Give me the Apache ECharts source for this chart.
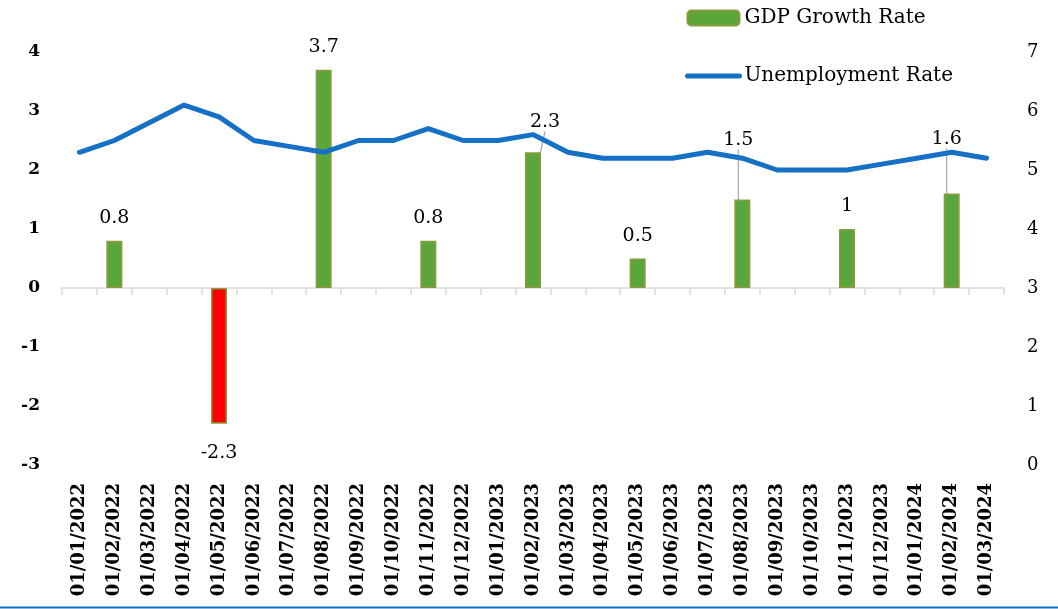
<!DOCTYPE html>
<html>
<head>
<meta charset="utf-8">
<script src="https://cdn.jsdelivr.net/npm/echarts@6/dist/echarts.min.js"></script>
<style>
    html, body { margin: 0; padding: 0; background: #fff; }
    #chart { width: 1058px; height: 609px; }
</style>
</head>
<body>
<div id="chart"></div>
<script>
// 月份
let categories = [
    '01/01/2022', '01/02/2022', '01/03/2022', '01/04/2022', '01/05/2022', '01/06/2022',
    '01/07/2022', '01/08/2022', '01/09/2022', '01/10/2022', '01/11/2022', '01/12/2022',
    '01/01/2023', '01/02/2023', '01/03/2023', '01/04/2023', '01/05/2023', '01/06/2023',
    '01/07/2023', '01/08/2023', '01/09/2023', '01/10/2023', '01/11/2023', '01/12/2023',
    '01/01/2024', '01/02/2024', '01/03/2024'
]
// GDP 增长 (季度)
let gdpGrowth = [
    null, 0.8, null, null, -2.3, null, null, 3.7, null, null, 0.8, null,
    null, 2.3, null, null, 0.5, null, null, 1.5, null, null, 1, null,
    null, 1.6, null
]
// 失业率
let unemployment = [
    5.3, 5.5, 5.8, 6.1, 5.9, 5.5, 5.4, 5.3, 5.5, 5.5, 5.7, 5.5,
    5.5, 5.6, 5.3, 5.2, 5.2, 5.2, 5.3, 5.2, 5.0, 5.0, 5.0, 5.1,
    5.2, 5.3, 5.2
]
let leftTicks = [-3, -2, -1, 0, 1, 2, 3, 4]
let rightTicks = [0, 1, 2, 3, 4, 5, 6, 7]

// 被移动的标签 (dx, dy)
let labelShift = {13: [12, -8], 19: [-4, -37], 25: [-5, -32]}

let font = 'DejaVu Serif'
let green = '#5AA63B'
let olive = '#8C9A3E'
let blue = '#1570C6'

let barData = gdpGrowth.map((v, i) => {
    if (v === null) return '-'
    let item = {value: v, itemStyle: {color: v < 0 ? '#FF0000' : green}}
    if (v < 0) item.label = {position: 'bottom', distance: 20}
    if (labelShift[i]) item.labelLine = {show: true}
    return item
})

var mychart = echarts.init(document.getElementById('chart'))
mychart.setOption({
    animation: false,
    grid: {left: 62, right: 54, top: 52, bottom: 144},
    legend: {
        orient: 'vertical',
        left: 680,
        top: 3,
        itemWidth: 52,
        itemHeight: 15,
        itemGap: 38,
        textStyle: {fontFamily: font, fontSize: 20, color: '#000'},
        data: [
            {name: 'GDP Growth Rate'},
            {name: 'Unemployment Rate', itemStyle: {opacity: 0}, lineStyle: {width: 5, color: blue, cap: 'round'}}
        ]
    },
    xAxis: [
        {
            type: 'category',
            data: categories,
            boundaryGap: true,
            axisLine: {onZero: true, onZeroAxisIndex: 0, lineStyle: {color: '#d9d9d9', width: 1.5}},
            axisTick: {show: true, interval: 0, length: 7, lineStyle: {color: '#d9d9d9', width: 1.5}},
            axisLabel: {show: false}
        },
        {
            type: 'category',
            data: categories,
            position: 'bottom',
            axisLine: {show: false, onZero: false},
            axisTick: {show: false},
            axisLabel: {
                rotate: 90, margin: 18, interval: 0,
                fontFamily: font, fontWeight: 'bold', fontSize: 18, color: '#000'
            }
        }
    ],
    yAxis: [
        {
            type: 'value',
            min: leftTicks[0], max: leftTicks[leftTicks.length - 1], interval: 1,
            splitLine: {show: false},
            axisLine: {show: false},
            axisTick: {show: false},
            axisLabel: {margin: 22, fontFamily: font, fontWeight: 'bold', fontSize: 17, color: '#000'}
        },
        {
            type: 'value',
            position: 'right',
            min: rightTicks[0], max: rightTicks[rightTicks.length - 1], interval: 1,
            splitLine: {show: false},
            axisLine: {show: false},
            axisTick: {show: false},
            axisLabel: {margin: 23, fontFamily: font, fontSize: 18, color: '#000'}
        }
    ],
    series: [
        {
            name: 'GDP Growth Rate',
            type: 'bar',
            xAxisIndex: 0,
            yAxisIndex: 0,
            barWidth: 16,
            itemStyle: {color: green, borderColor: olive, borderWidth: 1.5},
            label: {
                show: true, position: 'top', distance: 13,
                fontFamily: font, fontSize: 19, color: '#000'
            },
            labelLine: {show: false, lineStyle: {color: '#a6a6a6', width: 1.2}},
            labelLayout: function(params){
                let m = labelShift[params.dataIndex]
                return m ? {dx: m[0], dy: m[1]} : {}
            },
            data: barData
        },
        {
            name: 'Unemployment Rate',
            type: 'line',
            xAxisIndex: 0,
            yAxisIndex: 1,
            symbol: 'none',
            lineStyle: {color: blue, width: 5, cap: 'round'},
            itemStyle: {color: blue},
            data: unemployment
        }
    ],
    graphic: [
        {type: 'line', shape: {x1: 0, y1: 607.5, x2: 1058, y2: 607.5}, style: {stroke: blue, lineWidth: 2}}
    ]
})
</script>
</body>
</html>
